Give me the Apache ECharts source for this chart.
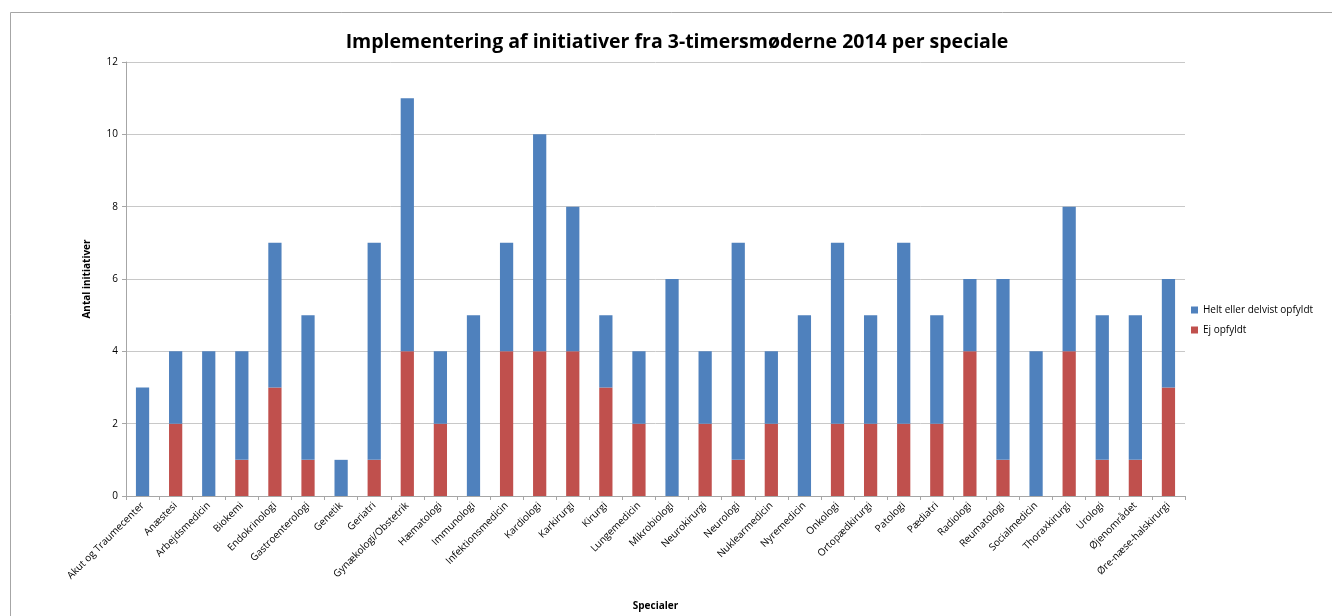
<!DOCTYPE html>
<html>
<head>
<meta charset="utf-8">
<script src="https://cdn.jsdelivr.net/npm/echarts@6/dist/echarts.min.js"></script>
<style>
html,body{margin:0;padding:0;background:#fff;}
#c{width:1332px;height:616px;}
</style>
</head>
<body>
<div id="c"></div>
<script>
const categories = ["Akut og Traumecenter","Anæstesi","Arbejdsmedicin","Biokemi","Endokrinologi","Gastroenterologi","Genetik","Geriatri","Gynækologi/Obstetrik","Hæmatologi","Immunologi","Infektionsmedicin","Kardiologi","Karkirurgi","Kirurgi","Lungemedicin","Mikrobiologi","Neurokirurgi","Neurologi","Nuklearmedicin","Nyremedicin","Onkologi","Ortopædkirurgi","Patologi","Pædiatri","Radiologi","Reumatologi","Socialmedicin","Thoraxkirurgi","Urologi","Øjenområdet","Øre-næse-halskirurgi"];
const ejOpfyldt = [0,2,0,1,3,1,0,1,4,2,0,4,4,4,3,2,0,2,1,2,0,2,2,2,2,4,1,0,4,1,1,3];
const heltDelvist = [3,2,4,3,4,4,1,6,7,2,5,3,6,4,2,2,6,2,6,2,5,5,3,5,3,2,5,4,4,4,4,3];
const yTicks = [0,2,4,6,8,10,12];

const font = "'Open Sans', 'Liberation Sans', sans-serif";
const chart = echarts.init(document.getElementById('c'));
chart.setOption({
  animation: false,
  backgroundColor: '#fff',
  graphic: [{
    type: 'rect', silent: true, z: -10,
    shape: {x: 10.5, y: 12.5, width: 1400, height: 700},
    style: {fill: 'none', stroke: '#a6a6a6', lineWidth: 1}
  }],
  title: {
    text: 'Implementering af initiativer fra 3-timersmøderne 2014 per speciale',
    left: 672, top: 27, textAlign: 'center',
    textStyle: {fontFamily: font, fontSize: 19.5, fontWeight: 'bold', color: '#000'}
  },
  legend: {
    orient: 'vertical', left: 1186, top: 300, itemGap: 10,
    itemWidth: 7, itemHeight: 7, icon: 'rect',
    data: ['Helt eller delvist opfyldt', 'Ej opfyldt'],
    textStyle: {fontFamily: font, fontSize: 10, color: '#000'}
  },
  grid: {left: 126, right: 147, top: 62, bottom: 118},
  xAxis: {
    type: 'category', data: categories,
    name: 'Specialer', nameLocation: 'middle', nameGap: 105,
    nameTextStyle: {fontFamily: font, fontSize: 10, fontWeight: 'bold', color: '#000'},
    axisLine: {lineStyle: {color: '#a6a6a6'}},
    axisTick: {show: true, alignWithLabel: false, length: 4, lineStyle: {color: '#a6a6a6'}},
    axisLabel: {rotate: 45, interval: 0, fontFamily: font, fontSize: 10, color: '#000', margin: 8}
  },
  yAxis: {
    type: 'value', min: 0, max: 12, interval: 2,
    name: 'Antal initiativer', nameLocation: 'middle', nameGap: 34, nameRotate: 90,
    nameTextStyle: {fontFamily: font, fontSize: 10, fontWeight: 'bold', color: '#000'},
    axisLine: {show: true, lineStyle: {color: '#a6a6a6'}},
    axisTick: {show: true, length: 4, lineStyle: {color: '#a6a6a6'}},
    axisLabel: {fontFamily: font, fontSize: 10, color: '#000', margin: 8,
      formatter: v => yTicks.includes(v) ? String(v) : ''},
    splitLine: {lineStyle: {color: '#c8c8c8'}}
  },
  series: [
    {name: 'Ej opfyldt', type: 'bar', stack: 'a', data: ejOpfyldt, barWidth: '40%',
     itemStyle: {color: '#C0504D'}},
    {name: 'Helt eller delvist opfyldt', type: 'bar', stack: 'a', data: heltDelvist, barWidth: '40%',
     itemStyle: {color: '#4F81BD'}}
  ]
});
</script>
</body>
</html>
